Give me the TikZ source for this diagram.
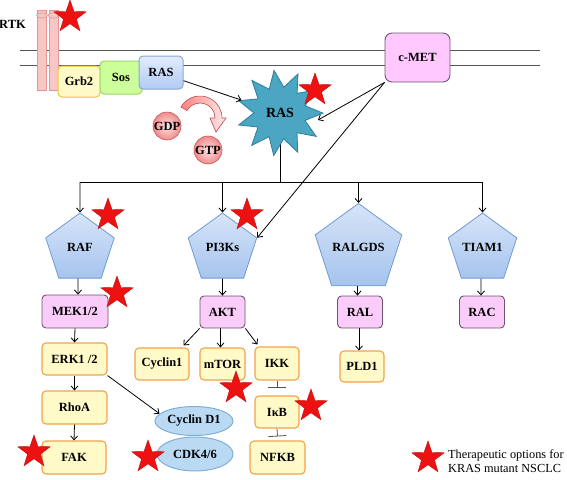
\documentclass[tikz,border=0pt]{standalone}
\usepackage{fontspec}
\setmainfont{Liberation Serif}
\usetikzlibrary{shapes.geometric,arrows.meta,calc,shadings}
\definecolor{starred}{HTML}{EE1111}
\definecolor{pentatop}{HTML}{D6E4F8}
\definecolor{pentabot}{HTML}{A6C4EE}
\definecolor{pentaline}{HTML}{6F9AD6}
\definecolor{pinkfill}{HTML}{FACCFA}
\definecolor{pinkline}{HTML}{6E5470}
\definecolor{yelfill}{HTML}{FFFAC8}
\definecolor{yelline}{HTML}{F2A24E}
\definecolor{grbline}{HTML}{F0C43A}
\definecolor{sosfill}{HTML}{CCFF99}
\definecolor{sosline}{HTML}{9CD468}
\definecolor{rastop}{HTML}{E2ECFF}
\definecolor{rasbot}{HTML}{B2CAF2}
\definecolor{rasline}{HTML}{86A8DA}
\definecolor{teal}{HTML}{4AA6C2}
\definecolor{tealline}{HTML}{2C7F99}
\definecolor{membrane}{HTML}{555555}
\definecolor{rtkfill}{HTML}{F9C6C6}
\definecolor{rtkline}{HTML}{E39494}
\definecolor{ellfill}{HTML}{BAD9F3}
\definecolor{ellline}{HTML}{7FAFD9}
\definecolor{gtpin}{HTML}{FFE4E4}
\definecolor{gtpout}{HTML}{F08A8A}
\definecolor{gtpline}{HTML}{C45A5A}
\definecolor{inhibgray}{HTML}{555555}
\definecolor{cmetfill}{HTML}{FFC8FF}
\tikzset{
 lbl/.style={font=\fontsize{12.5}{14}\selectfont\bfseries, text=black},
 sz/.style 2 args={minimum width=#1pt, minimum height=#2pt},
 redstar/.style={star, star points=5, star point ratio=2.5, minimum size=34pt, inner sep=0pt, fill=starred, draw=starred!80!black, line width=0.4pt},
 penta/.style={regular polygon, regular polygon sides=5, minimum size=72pt, inner sep=0pt, top color=pentatop, bottom color=pentabot, draw=pentaline, line width=0.8pt, lbl},
 pinkbox/.style={rectangle, rounded corners=4pt, fill=pinkfill, draw=pinkline, line width=0.9pt, inner sep=1pt, lbl},
 yelbox/.style={rectangle, rounded corners=4pt, fill=yelfill, draw=yelline, line width=1.1pt, inner sep=1pt, lbl},
 ellnode/.style={ellipse, fill=ellfill, draw=ellline, line width=1pt, inner sep=0pt, lbl},
 nucleo/.style={circle, minimum size=28pt, inner sep=0pt, inner color=gtpin, outer color=gtpout, draw=gtpline, line width=0.6pt, lbl},
 conn/.style={line width=0.8pt, draw=black, -{Straight Barb[length=4pt,width=7pt]}},
 plain/.style={line width=0.8pt, draw=black},
 inhib/.style={line width=0.8pt, draw=inhibgray, -{Bar[width=18pt,line width=0.8pt]}},
 memline/.style={line width=0.8pt, draw=membrane},
 rtkbar/.style={fill=rtkfill, draw=rtkline, line width=0.6pt},
}
\begin{document}
\begin{tikzpicture}[x=1pt,y=-1pt]
\useasboundingbox (0,0) rectangle (567,479);
% membrane
\coordinate (m1a) at (20,50); \coordinate (m1b) at (540,50);
\coordinate (m2a) at (20,65); \coordinate (m2b) at (540,65);
\draw[memline] (m1a) -- (m1b);
\draw[memline] (m2a) -- (m2b);
% RTK
\node[lbl, anchor=west, inner sep=0pt] (rtk) at (-1,24) {RTK};
\draw[rtkbar] (37,10) rectangle (46,90);
\draw[rtkbar] (49,10) rectangle (58,90);
\draw[rtkbar] (42,15.5) ellipse [x radius=5.5, y radius=2.6];
\draw[rtkbar] (53.5,15.5) ellipse [x radius=5.5, y radius=2.6];
% membrane complex
\node[rectangle, rounded corners=4pt, fill=yelfill, draw=grbline, line width=1pt, sz={42}{31}, lbl] (grb2) at (79,81.5) {Grb2};
\node[rectangle, rounded corners=4pt, fill=sosfill, draw=sosline, line width=1pt, sz={42}{33}, lbl] (sos) at (121,77.5) {Sos};
\node[rectangle, rounded corners=4pt, top color=rastop, bottom color=rasbot, draw=rasline, line width=1pt, sz={44}{33}, lbl] (rasm) at (161,72.5) {RAS};
\node[pinkbox, sz={65}{49}, rounded corners=7pt, fill=cmetfill] (cmet) at (417.5,57.5) {c-MET};
% curved arrow GDP -> GTP
\fill[left color=red!50!white, right color=red!8!white, draw=gtpline, line width=0.6pt]
  (180.95,107) arc[start angle=150, end angle=0, radius=22pt] -- (226,118) -- (216,132) -- (210,118) -- (215,118)
  arc[start angle=0, end angle=150, radius=15pt] -- cycle;
\node[nucleo] (gdp) at (167,126) {GDP};
\node[nucleo] (gtp) at (208,150) {GTP};
% RAS star
\coordinate (rasc) at (280,113);
\coordinate (jm) at (280,182);
\coordinate (j1) at (80,182);
\coordinate (j2) at (222.5,182);
\coordinate (j3) at (358.5,182);
\coordinate (j4) at (482.5,182);
\draw[plain] (rasc) -- (jm);
\node[star, star points=11, star point ratio=1.65, minimum size=86pt, inner sep=0pt, fill=teal, draw=tealline, line width=0.8pt, shape border rotate=8, font=\fontsize{14}{16}\selectfont\bfseries] (rasstar) at (rasc) {RAS};
\draw[plain] (j1) -- (j4);
% pentagons
\node[penta] (raf) at (80,249) {\raisebox{4pt}{RAF}};
\node[penta] (pi3k) at (222.5,249) {\raisebox{3pt}{PI3Ks}};
\node[penta] (ralgds) at (358.5,249) {\raisebox{3pt}{RALGDS}};
\node[penta] (tiam) at (482.5,249) {\raisebox{4pt}{TIAM1}};
% second row
\node[pinkbox, sz={66}{33}] (mek) at (75,311.5) {MEK1/2};
\node[pinkbox, sz={45}{32}] (akt) at (222.5,312) {AKT};
\node[pinkbox, sz={45}{32}] (ral) at (360,312) {RAL};
\node[pinkbox, sz={45}{32}] (rac) at (482,312) {RAC};
% lower boxes
\node[yelbox, sz={65}{32}] (erk) at (74.5,359) {ERK1 /2};
\node[yelbox, sz={65}{33}] (rhoa) at (74.5,407.5) {RhoA};
\node[yelbox, sz={64}{33}] (fak) at (74,457.5) {FAK};
\node[yelbox, sz={54}{32}] (cyc1) at (162,364) {Cyclin1};
\node[yelbox, sz={45}{32}] (mtor) at (222.5,364) {mTOR};
\node[yelbox, sz={44}{33}] (ikk) at (277,363.5) {IKK};
\node[yelbox, sz={44}{32}] (ikb) at (277,412) {IκB};
\node[yelbox, sz={55}{33}] (nfkb) at (277.5,457.5) {NFKB};
\node[yelbox, sz={44}{31}] (pld1) at (362,366.5) {PLD1};
\node[ellnode, sz={78}{29}] (cycd) at (194,421) {Cyclin D1};
\node[ellnode, sz={76}{34}] (cdk) at (195,454) {CDK4/6};
% connectors
\draw[conn] (rasm.-20) -- (rasstar);
\draw[conn] (cmet.south west) -- ($(rasstar.center)+(38,7)$);
\draw[conn] (cmet.south west) -- (pi3k.corner 5);
\draw[conn] (j1) -- (raf.north);
\draw[conn] (j2) -- (pi3k.north);
\draw[conn] (j3) -- (ralgds.north);
\draw[conn] (j4) -- (tiam.north);
\draw[conn] ($(raf.south)+(-2,0)$) -- ($(mek.north)+(3,0)$);
\draw[conn] (pi3k.south) -- (akt.north);
\draw[conn] ($(ralgds.south)+(-1,0)$) -- ($(ral.north)+(-2.5,0)$);
\draw[conn] ($(tiam.south)+(-1.5,0)$) -- ($(rac.north)+(-1,0)$);
\draw[conn] (mek.south) -- (erk.north);
\draw[conn] (erk.south) -- (rhoa.north);
\draw[conn] (rhoa.south) -- (fak.north);
\draw[conn] (erk.south east) -- (cycd.168);
\draw[conn] (akt.south west) -- ($(cyc1.north east)+(-6,-2)$);
\draw[conn] ($(akt.south)+(-2,0)$) -- ($(mtor.north)+(-2,0)$);
\draw[conn] (akt.south east) -- ($(ikk.north west)+(3,-2)$);
\draw[conn] ($(ral.south)+(-1,0)$) -- ($(pld1.north)+(-3,0)$);
\draw[inhib] (ikk.south) -- ($(ikb.north)+(0,-8)$);
\draw[inhib] (ikb.south) -- ($(nfkb.north)+(0,-4)$);
% stars
\node[redstar] (s1) at (70,17) {};
\node[redstar] (s2) at (315,90) {};
\node[redstar] (s3) at (108,215) {};
\node[redstar] (s4) at (247,215) {};
\node[redstar] (s5) at (117,293) {};
\node[redstar] (s6) at (236,388) {};
\node[redstar] (s7) at (311,406) {};
\node[redstar] (s8) at (34,452) {};
\node[redstar] (s9) at (148,457) {};
\node[redstar] (s10) at (428,458) {};
\node[anchor=west, align=left, inner sep=0pt, font=\fontsize{12.3}{14}\selectfont] (leg) at (448,461) {Therapeutic options for\\KRAS mutant NSCLC};
\end{tikzpicture}
\end{document}
